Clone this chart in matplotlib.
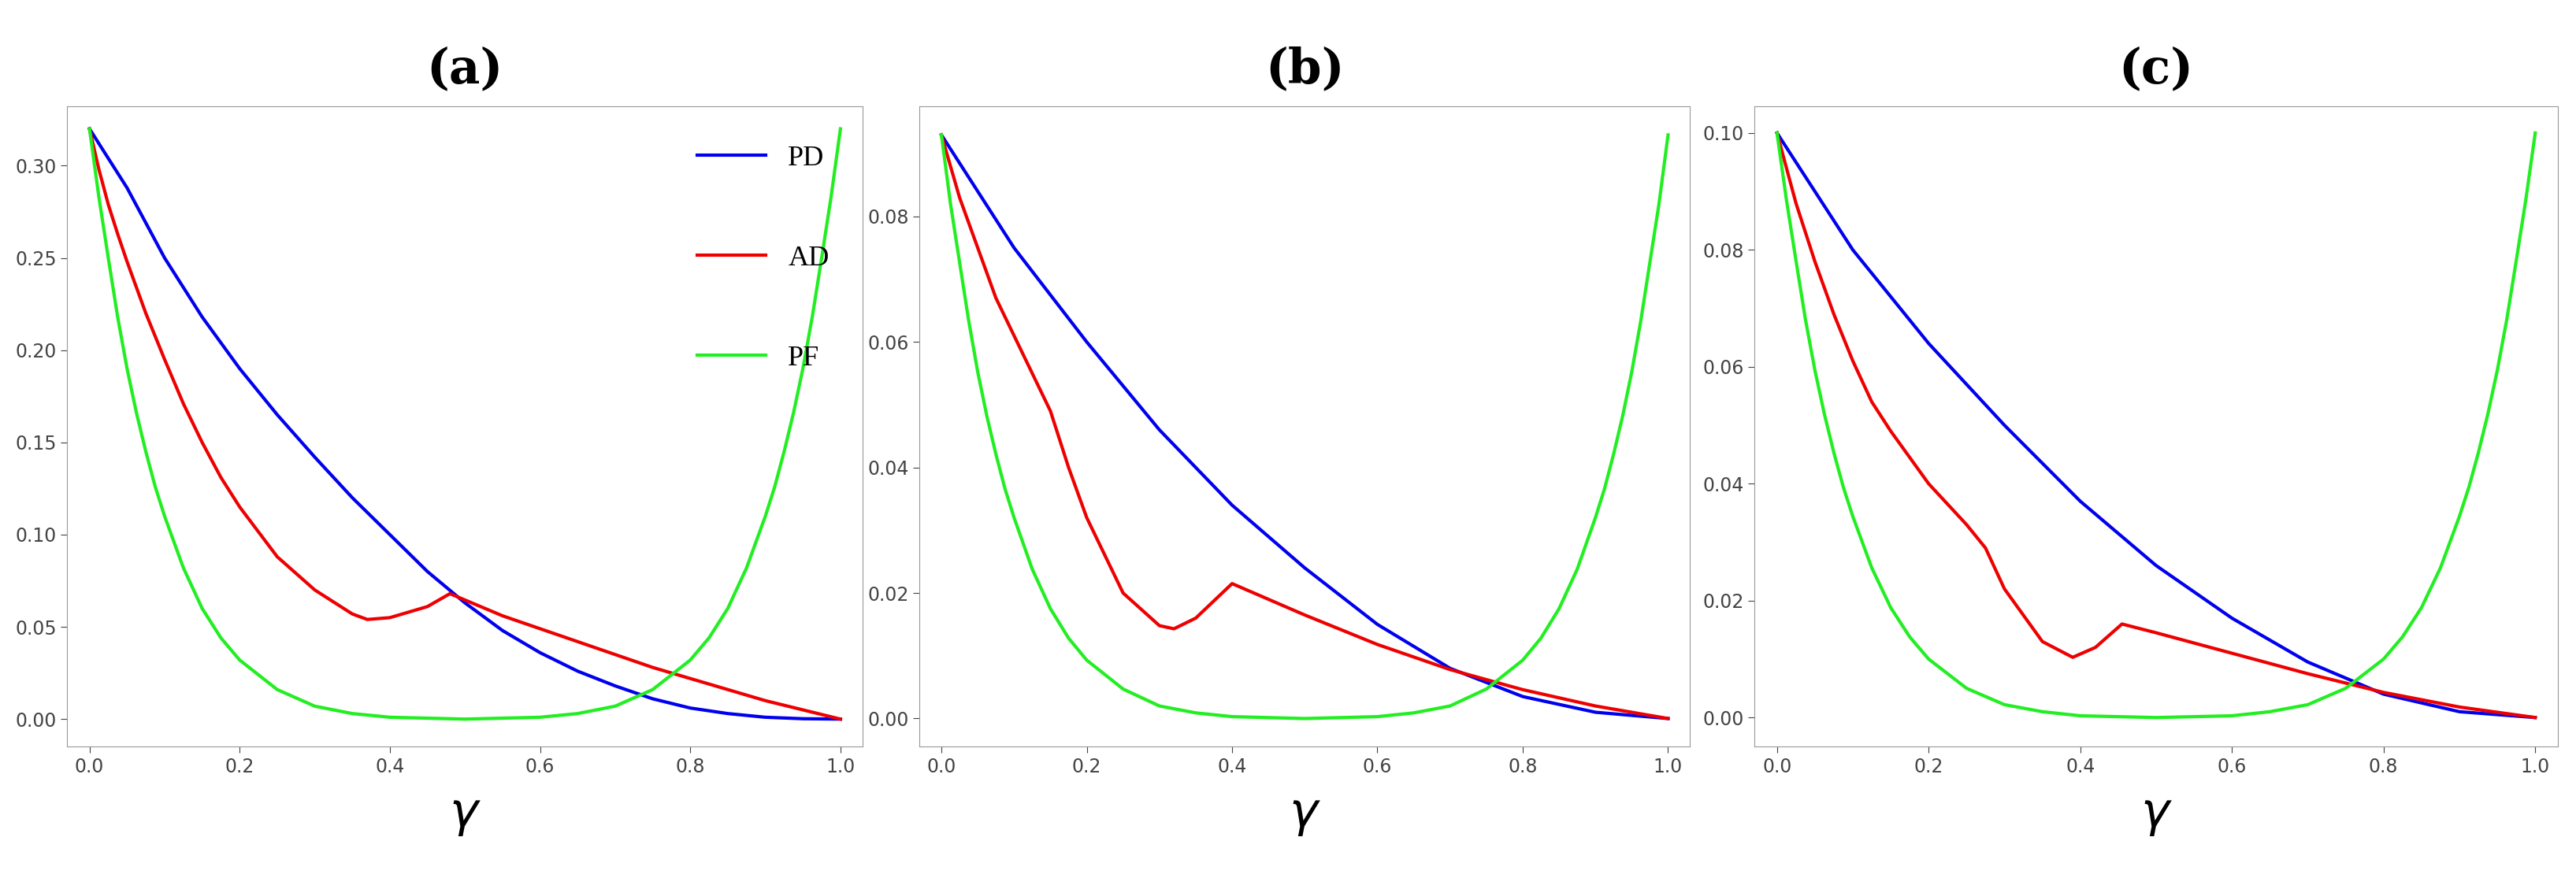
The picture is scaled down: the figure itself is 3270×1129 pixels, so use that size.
import matplotlib
matplotlib.use("Agg")
import matplotlib.pyplot as plt

g_pd = [0,0.05,0.1,0.15,0.2,0.25,0.3,0.35,0.4,0.45,0.5,0.55,0.6,0.65,0.7,0.75,0.8,0.85,0.9,0.95,1.0]
pd_a = [0.32,0.288,0.25,0.218,0.19,0.165,0.142,0.12,0.1,0.08,0.063,0.048,0.036,0.026,0.018,0.011,0.006,0.003,0.001,0.0002,0]
g_ad_a = [0,0.0125,0.025,0.0375,0.05,0.075,0.1,0.125,0.15,0.175,0.2,0.25,0.3,0.35,0.37,0.4,0.45,0.48,0.55,0.6,0.65,0.7,0.75,0.8,0.85,0.9,0.95,1.0]
ad_a = [0.32,0.298,0.279,0.263,0.248,0.22,0.195,0.171,0.15,0.131,0.115,0.088,0.07,0.057,0.054,0.055,0.061,0.068,0.056,0.049,0.042,0.035,0.028,0.022,0.016,0.01,0.005,0]
g_pf = [0,0.0125,0.025,0.0375,0.05,0.0625,0.075,0.0875,0.1,0.125,0.15,0.175,0.2,0.25,0.3,0.35,0.4,0.5,0.6,0.65,0.7,0.75,0.8,0.825,0.85,0.875,0.9,0.9125,0.925,0.9375,0.95,0.9625,0.975,0.9875,1.0]
pf_a = [0.32,0.283,0.25,0.218,0.19,0.166,0.145,0.126,0.11,0.082,0.06,0.044,0.032,0.016,0.007,0.003,0.001,0,0.001,0.003,0.007,0.016,0.032,0.044,0.06,0.082,0.11,0.126,0.145,0.166,0.19,0.218,0.25,0.283,0.32]

g10 = [0,0.1,0.2,0.3,0.4,0.5,0.6,0.7,0.8,0.9,1.0]
pd_b = [0.093,0.075,0.06,0.046,0.034,0.024,0.015,0.008,0.0035,0.001,0]
g_ad_b = [0,0.025,0.05,0.075,0.1,0.125,0.15,0.175,0.2,0.25,0.3,0.32,0.35,0.4,0.5,0.6,0.7,0.8,0.9,1.0]
ad_b = [0.093,0.083,0.075,0.067,0.061,0.055,0.049,0.04,0.032,0.02,0.0148,0.0143,0.016,0.0215,0.0165,0.0118,0.0078,0.0046,0.002,0]
pf_b = [0.093,0.082,0.0727,0.0634,0.0552,0.0482,0.0421,0.0366,0.032,0.0238,0.0175,0.0128,0.0093,0.0047,0.002,0.0009,0.0003,0,0.0003,0.0009,0.002,0.0047,0.0093,0.0128,0.0175,0.0238,0.032,0.0366,0.0421,0.0482,0.0552,0.0634,0.0727,0.082,0.093]

pd_c = [0.1,0.08,0.064,0.05,0.037,0.026,0.017,0.0095,0.004,0.001,0]
g_ad_c = [0,0.025,0.05,0.075,0.1,0.125,0.15,0.2,0.25,0.275,0.3,0.35,0.39,0.42,0.455,0.5,0.6,0.7,0.8,0.9,1.0]
ad_c = [0.1,0.088,0.078,0.069,0.061,0.054,0.049,0.04,0.033,0.029,0.022,0.013,0.0103,0.012,0.016,0.0145,0.011,0.0075,0.0043,0.0018,0]
pf_c = [0.1,0.0885,0.0782,0.0681,0.0594,0.0519,0.0453,0.0394,0.0344,0.0256,0.0188,0.0138,0.01,0.005,0.0022,0.001,0.0003,0,0.0003,0.001,0.0022,0.005,0.01,0.0138,0.0188,0.0256,0.0344,0.0394,0.0453,0.0519,0.0594,0.0681,0.0782,0.0885,0.1]

panels = [("(a)", pd_a, g_ad_a, ad_a, pf_a, (-0.015, 0.332), [0,0.05,0.1,0.15,0.2,0.25,0.3]),
          ("(b)", pd_b, g_ad_b, ad_b, pf_b, (-0.0045, 0.0975), [0,0.02,0.04,0.06,0.08]),
          ("(c)", pd_c, g_ad_c, ad_c, pf_c, (-0.005, 0.1045), [0,0.02,0.04,0.06,0.08,0.1])]

fig = plt.figure(figsize=(32.7, 11.29), dpi=100)
boxes = [(0.026, 0.309), (0.357, 0.299), (0.681, 0.312)]
for i, (t, pdv, gad, adv, pfv, yl, yt) in enumerate(panels):
    ax = fig.add_axes([boxes[i][0], 0.16, boxes[i][1], 0.72])
    gp = g_pd if i == 0 else g10
    ax.plot(gp, pdv, color="#0000ee", lw=3, label="PD")
    ax.plot(gad, adv, color="#ee0000", lw=3, label="AD")
    ax.plot(g_pf, pfv, color="#22ee22", lw=3, label="PF")
    ax.set_xlim(-0.03, 1.03)
    ax.set_ylim(*yl)
    ax.set_yticks(yt)
    ax.set_yticklabels(["%.2f" % v for v in yt])
    ax.set_xticks([0,0.2,0.4,0.6,0.8,1.0])
    ax.set_xticklabels(["0.0","0.2","0.4","0.6","0.8","1.0"])
    ax.tick_params(labelsize=17, colors="#444444", direction="out", length=6)
    for s in ax.spines.values():
        s.set_color("#999999")
    ax.set_title(t, fontsize=44, fontweight="bold", family="DejaVu Serif", pad=22)
    ax.set_xlabel(r"$\gamma$", fontsize=44, labelpad=14)
    if i == 0:
        ax.legend(loc="upper right", bbox_to_anchor=(0.99, 0.98), frameon=False,
                  labelspacing=2.6, handlelength=2.4, prop={"family": "Liberation Serif", "size": 26})
fig.savefig("out.png", dpi=100)
